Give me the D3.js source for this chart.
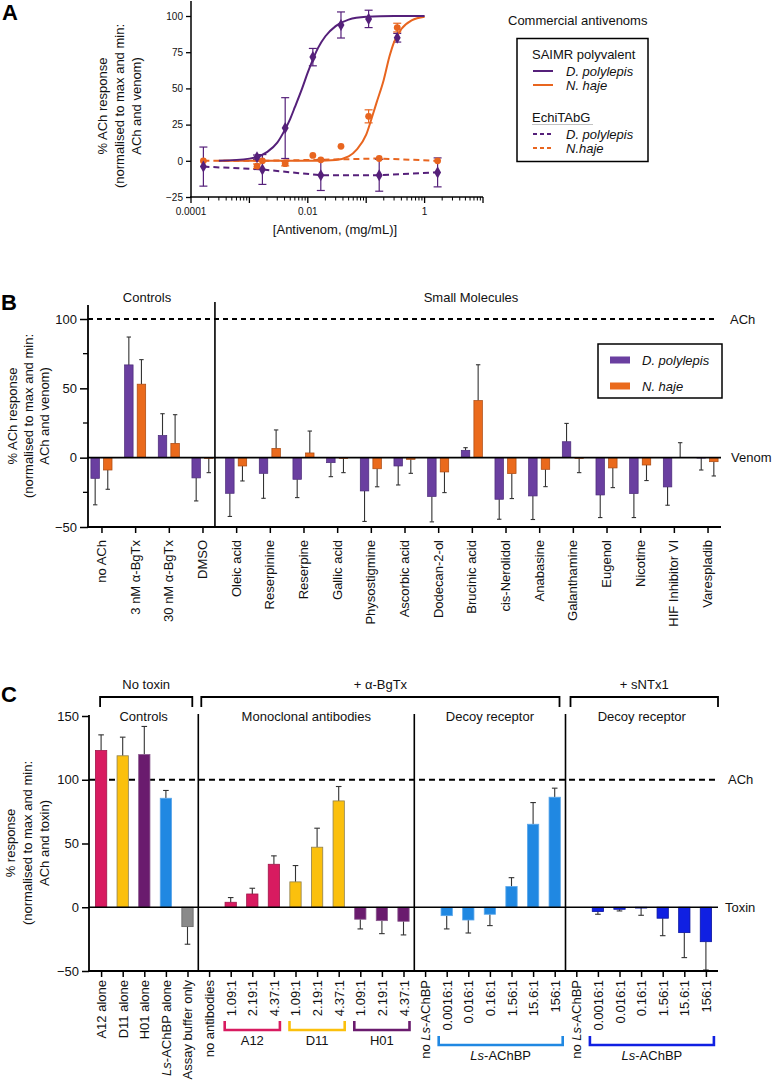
<!DOCTYPE html>
<html><head><meta charset="utf-8">
<script src="https://cdn.jsdelivr.net/npm/d3@7"></script>
<style>
body{margin:0;background:#fff;}
svg{display:block;font-family:"Liberation Sans", Arial, sans-serif;}
</style></head><body>
<svg id="chart" width="772" height="1084"></svg>
<script>
// ---------------- Panel A data ----------------
const aYTicks = [-25, 0, 25, 50, 75, 100];
const aXLabelTicks = [0.0001, 0.01, 1];
const aXLabelText = ["0.0001", "0.01", "1"];
const saimrDoses = [0.00135, 0.0041, 0.0122, 0.037, 0.11, 0.34];
const saimrDpMean = [2.5, 22.6, 71.6, 93.8, 98, 85];
const saimrDpErr = [1.5, 21, 6, 9, 6, 3];
const saimrNhMean = [-3.7, -2, 3.7, 10, 30.7, 92];
const saimrNhErr = [1.5, 1.5, 0, 0, 4.5, 3];
const echiDoses = [0.000163, 0.00167, 0.0167, 0.167, 1.67];
const echiDpMean = [-4, -6, -10, -10, -8];
const echiDpErr = [13.5, 10.3, 10.5, 11, 10];
const echiNhMean = [0, 0, 0.7, 1.6, 0];
const fitDpX = [0.0003, 0.001, 0.002, 0.003, 0.004, 0.005, 0.006, 0.008, 0.01, 0.015, 0.02, 0.03, 0.05, 0.1, 0.3, 1];
const fitDpY = [0.1, 1.5, 6, 12.5, 21, 29, 37, 50, 61, 78, 86, 93, 97.5, 99.4, 100, 100];
const fitNhX = [0.0003, 0.01, 0.03, 0.05, 0.07, 0.1, 0.13, 0.15, 0.2, 0.25, 0.3, 0.4, 0.6, 1];
const fitNhY = [0, 0, 0.6, 3, 8, 18, 32, 40, 56, 72, 82, 91, 97, 99.5];

// ---------------- Panel B data ----------------
const bCategories = ["no ACh", "3 nM α-BgTx", "30 nM α-BgTx", "DMSO", "Oleic acid", "Reserpinine", "Reserpine", "Gallic acid", "Physostigmine", "Ascorbic acid", "Dodecan-2-ol", "Brucinic acid", "cis-Nerolidol", "Anabasine", "Galanthamine", "Eugenol", "Nicotine", "HIF Inhibitor VI", "Varespladib"];
const bPolylepis = [-14.9, 66.9, 16, -14.6, -25.7, -11.3, -15.6, -3.6, -24, -6, -28, 5.3, -30, -27.6, 11.5, -26.9, -25.9, -21.1, -0.3];
const bPolylepisErr = [19.1, 20.1, 15.7, 16.6, 16.7, 18, 13.2, 10.1, 22, 13.7, 18.3, 1.9, 14.4, 17, 13.2, 16.3, 17.3, 13.2, 8.6];
const bHaje = [-8.9, 53, 10.3, -0.5, -6, 6.7, 3.4, -0.5, -8, -1.2, -10.3, 41.2, -11.5, -8.4, -0.5, -7.4, -5.3, 0, -2.9];
const bHajeErr = [13.9, 17.7, 20.7, 10.3, 10.8, 13.3, 15.8, 10.3, 13, 10.1, 14.9, 25.8, 18, 12.5, 10.3, 14.2, 11.2, 10.8, 10.3];
const bYTicks = [-50, 0, 50, 100];
const bYMinor = [-25, 25, 75];

// ---------------- Panel C data ----------------
const cLabels = ["A12 alone", "D11 alone", "H01 alone", "Ls-AChBP alone", "Assay buffer only", "no antibodies", "1.09:1", "2.19:1", "4.37:1", "1.09:1", "2.19:1", "4.37:1", "1.09:1", "2.19:1", "4.37:1", "no Ls-AChBP", "0.0016:1", "0.016:1", "0.16:1", "1.56:1", "15.6:1", "156:1", "no Ls-AChBP", "0.0016:1", "0.016:1", "0.16:1", "1.56:1", "15.6:1", "156:1"];
const cValues = [122.9, 118.8, 119.8, 85.5, -15.2, 0, 3.9, 10.4, 33.7, 19.9, 47.1, 83.4, -9.4, -10.5, -11, 0, -6.6, -10, -5.5, 16.2, 65.1, 86.3, 0, -3.4, -1.6, -0.5, -8.6, -19.9, -27];
const cErrors = [12.3, 14.6, 22, 6.1, 13.8, 0, 3.7, 4.5, 6.6, 12.8, 14.9, 11.3, 7.6, 10.2, 10.7, 0, 10.4, 10.2, 8.9, 7, 17, 7.1, 0, 2.1, 1.3, 5.8, 13.7, 19.6, 22.2];
const cGroups = ["A12", "D11", "H01", "Ls", "buffer", "none", "A12", "A12", "A12", "D11", "D11", "D11", "H01", "H01", "H01", "none", "Ls", "Ls", "Ls", "Ls", "Ls", "Ls", "none", "sNTx", "sNTx", "sNTx", "sNTx", "sNTx", "sNTx"];
const cYTicks = [-50, 0, 50, 100, 150];
const cSections = ["Controls", "Monoclonal antibodies", "Decoy receptor", "Decoy receptor"];
const cTopBrackets = ["No toxin", "+ α-BgTx", "+ sNTx1"];
const cBottomBrackets = [
  {label: "A12", from: 6, to: 8, key: "A12"},
  {label: "D11", from: 9, to: 11, key: "D11"},
  {label: "H01", from: 12, to: 14, key: "H01"},
  {label: "Ls-AChBP", from: 16, to: 21, key: "Ls"},
  {label: "Ls-AChBP", from: 23, to: 28, key: "sNTx"}
];

// ---------------- styles ----------------
const FONT = '"Liberation Sans", Arial, sans-serif';
const cA_purple = "#55207a", cA_orange = "#e8651f";
const cB_purple = "#6a3fa0", cB_orange = "#ea6a1c";
const cColors = {A12: "#d81b60", D11: "#fbc00d", H01: "#6a1b6e", Ls: "#2088e2", buffer: "#8a8a8a", sNTx: "#1020e2", none: "#fff"};
const cStroke = {A12: "#a0164a", D11: "#8f8050", H01: "#8a5a8e", Ls: "#5aa6ea", buffer: "#666", sNTx: "#0a14a0", none: "#fff"};

const svg = d3.select("#chart");

function styleAxis(g, size) {
  g.attr("font-family", FONT).attr("font-size", size);
  g.selectAll("text").attr("fill", "#111");
}
function yTitle(g, lines, x0, dx, cy, size) {
  lines.forEach((t, i) => {
    g.append("text").attr("transform", `translate(${x0 + i * dx},${cy}) rotate(-90)`)
      .attr("text-anchor", "middle").attr("dominant-baseline", "central")
      .attr("font-size", size).attr("fill", "#111").text(t);
  });
}
function rich(sel, str) {
  str.split(/(Ls)/).forEach(p => {
    if (!p) return;
    sel.append("tspan").attr("font-style", p === "Ls" ? "italic" : "normal").text(p);
  });
}
function panelLetter(t, x, y) {
  svg.append("text").attr("x", x).attr("y", y).attr("font-size", 22).attr("font-weight", "bold").attr("fill", "#000").text(t);
}

// ================= PANEL A =================
(function () {
  const g = svg.append("g");
  panelLetter("A", 2, 20);
  const x = d3.scaleLog().domain([1e-4, 10]).range([191, 483]);
  const y = d3.scaleLinear().domain([-25, 100]).range([197, 16]);

  // axes
  g.append("line").attr("x1", 191).attr("x2", 191).attr("y1", 1).attr("y2", 197.5).attr("stroke", "#000").attr("stroke-width", 1.5);
  g.append("line").attr("x1", 190).attr("x2", 483).attr("y1", 197).attr("y2", 197).attr("stroke", "#000").attr("stroke-width", 1.5);
  const ya = g.append("g").attr("transform", "translate(191,0)")
    .call(d3.axisLeft(y).tickValues(aYTicks).tickSize(5).tickPadding(3));
  ya.select(".domain").remove();
  styleAxis(ya, 10);
  ya.selectAll("line").attr("stroke-width", 1.3);

  const minor = [];
  for (let e = -4; e < 1; e++) for (let m = 2; m <= 9; m++) minor.push(m * Math.pow(10, e));
  const decades = [1e-4, 1e-3, 1e-2, 1e-1, 1, 10];
  g.append("g").selectAll("line").data(minor).join("line")
    .attr("x1", d => x(d)).attr("x2", d => x(d)).attr("y1", 197).attr("y2", 200.5)
    .attr("stroke", "#000").attr("stroke-width", 1);
  g.append("g").selectAll("line").data(decades).join("line")
    .attr("x1", d => x(d)).attr("x2", d => x(d)).attr("y1", 197).attr("y2", 203)
    .attr("stroke", "#000").attr("stroke-width", 1.3);
  g.append("g").selectAll("text").data(aXLabelTicks).join("text")
    .attr("x", d => x(d)).attr("y", 215).attr("text-anchor", "middle")
    .attr("font-size", 10).attr("fill", "#111").text((d, i) => aXLabelText[i]);

  g.append("text").attr("x", 335).attr("y", 234).attr("text-anchor", "middle").attr("font-size", 13).attr("fill", "#111")
    .text("[Antivenom, (mg/mL)]");
  yTitle(g, ["% ACh response", "(normalised to max and min:", "ACh and venom)"], 102, 17, 106, 13);

  // dashed EchiTAbG lines
  const lin = d3.line().x(d => x(d[0])).y(d => y(d[1]));
  g.append("path").datum(echiDoses.map((d, i) => [d, echiNhMean[i]])).attr("d", lin)
    .attr("fill", "none").attr("stroke", cA_orange).attr("stroke-width", 2).attr("stroke-dasharray", "6,4");
  g.append("path").datum(echiDoses.map((d, i) => [d, echiDpMean[i]])).attr("d", lin)
    .attr("fill", "none").attr("stroke", cA_purple).attr("stroke-width", 2).attr("stroke-dasharray", "6,4");

  // error bars
  function errBars(doses, means, errs, color) {
    const eg = g.append("g").attr("stroke", color).attr("stroke-width", 1.2);
    doses.forEach((d, i) => {
      if (!errs[i]) return;
      const cx = x(d), y1 = y(means[i] + errs[i]), y2 = y(means[i] - errs[i]);
      eg.append("line").attr("x1", cx).attr("x2", cx).attr("y1", y1).attr("y2", y2);
      eg.append("line").attr("x1", cx - 4).attr("x2", cx + 4).attr("y1", y1).attr("y2", y1);
      eg.append("line").attr("x1", cx - 4).attr("x2", cx + 4).attr("y1", y2).attr("y2", y2);
    });
  }
  errBars(echiDoses, echiDpMean, echiDpErr, cA_purple);
  errBars(saimrDoses, saimrDpMean, saimrDpErr, cA_purple);
  errBars(saimrDoses, saimrNhMean, saimrNhErr, cA_orange);

  // fitted curves
  const cl = d3.line().x(d => x(d[0])).y(d => y(d[1])).curve(d3.curveMonotoneX);
  g.append("path").datum(fitNhX.map((d, i) => [d, fitNhY[i]])).attr("d", cl)
    .attr("fill", "none").attr("stroke", cA_orange).attr("stroke-width", 2);
  g.append("path").datum(fitDpX.map((d, i) => [d, fitDpY[i]])).attr("d", cl)
    .attr("fill", "none").attr("stroke", cA_purple).attr("stroke-width", 2);

  // markers
  const diamond = d3.symbol().type(d3.symbolDiamond).size(42);
  function circles(doses, means, color) {
    g.append("g").selectAll("circle").data(doses).join("circle")
      .attr("cx", d => x(d)).attr("cy", (d, i) => y(means[i])).attr("r", 3.4).attr("fill", color);
  }
  function diamonds(doses, means, color) {
    g.append("g").selectAll("path").data(doses).join("path")
      .attr("d", diamond).attr("transform", (d, i) => `translate(${x(d)},${y(means[i])})`).attr("fill", color);
  }
  circles(echiDoses, echiNhMean, cA_orange);
  circles(saimrDoses, saimrNhMean, cA_orange);
  diamonds(echiDoses, echiDpMean, cA_purple);
  diamonds(saimrDoses, saimrDpMean, cA_purple);

  // legend
  const lg = g.append("g").attr("font-size", 13).attr("fill", "#111");
  lg.append("text").attr("x", 508).attr("y", 25).text("Commercial antivenoms");
  lg.append("rect").attr("x", 517).attr("y", 38.5).attr("width", 131).attr("height", 123).attr("fill", "none").attr("stroke", "#000").attr("stroke-width", 1.5);
  lg.append("text").attr("x", 532).attr("y", 59).text("SAIMR polyvalent");
  lg.append("text").attr("x", 532).attr("y", 122).text("EchiTAbG");
  lg.append("line").attr("x1", 532).attr("x2", 593).attr("y1", 124.5).attr("y2", 124.5).attr("stroke", "#999").attr("stroke-width", 0.6);
  const items = [
    {y: 71, c: cA_purple, d: null, t: "D. polylepis"},
    {y: 85, c: cA_orange, d: null, t: "N. haje"},
    {y: 134, c: cA_purple, d: "4,3", t: "D. polylepis"},
    {y: 148, c: cA_orange, d: "4,3", t: "N.haje"}
  ];
  items.forEach(it => {
    lg.append("line").attr("x1", 533).attr("x2", 553).attr("y1", it.y).attr("y2", it.y)
      .attr("stroke", it.c).attr("stroke-width", 2).attr("stroke-dasharray", it.d);
    lg.append("text").attr("x", 566).attr("y", it.y).attr("dy", "0.35em").attr("font-style", "italic").text(it.t);
  });
})();

// ================= PANEL B =================
(function () {
  const g = svg.append("g");
  panelLetter("B", 1, 310);
  const x = d3.scalePoint().domain(bCategories).range([88, 721]).padding(0.4);
  const y = d3.scaleLinear().domain([-50, 100]).range([527, 319]);
  const step = x.step();
  const bw = 8.5, off = 6.3;

  const divX = x(bCategories[3]) + step * 0.37;
  // reference lines
  g.append("line").attr("x1", 88).attr("x2", 717).attr("y1", y(100)).attr("y2", y(100))
    .attr("stroke", "#000").attr("stroke-width", 1.8).attr("stroke-dasharray", "5,4");
  g.append("text").attr("x", 730).attr("y", y(100)).attr("dy", "0.35em").attr("font-size", 13).attr("fill", "#111").text("ACh");
  g.append("text").attr("x", 731).attr("y", y(0)).attr("dy", "0.35em").attr("font-size", 13).attr("fill", "#111").text("Venom");

  // bars
  function bars(vals, color, stroke, dx) {
    g.append("g").selectAll("rect").data(bCategories).join("rect")
      .attr("x", d => x(d) + dx - bw / 2).attr("width", bw)
      .attr("y", (d, i) => y(Math.max(0, vals[i]))).attr("height", (d, i) => Math.abs(y(vals[i]) - y(0)))
      .attr("fill", color).attr("stroke", stroke).attr("stroke-width", 0.7);
  }
  function errs(vals, e, dx) {
    const eg = g.append("g").attr("stroke", "#333").attr("stroke-width", 1.1);
    bCategories.forEach((c, i) => {
      const cx = x(c) + dx, v = vals[i], end = v >= 0 ? v + e[i] : v - e[i];
      eg.append("line").attr("x1", cx).attr("x2", cx).attr("y1", y(v)).attr("y2", y(end));
      eg.append("line").attr("x1", cx - 2.2).attr("x2", cx + 2.2).attr("y1", y(end)).attr("y2", y(end));
    });
  }
  errs(bPolylepis, bPolylepisErr, -off);
  errs(bHaje, bHajeErr, off);
  bars(bPolylepis, cB_purple, "#4a2a78", -off);
  bars(bHaje, cB_orange, "#a8480f", off);

  // zero line, divider, axes
  g.append("line").attr("x1", 88).attr("x2", 721).attr("y1", y(0)).attr("y2", y(0)).attr("stroke", "#000").attr("stroke-width", 1.6);
  g.append("line").attr("x1", divX).attr("x2", divX).attr("y1", 302).attr("y2", 527).attr("stroke", "#000").attr("stroke-width", 1.6);
  g.append("line").attr("x1", 88).attr("x2", 88).attr("y1", 305).attr("y2", 528).attr("stroke", "#000").attr("stroke-width", 1.8);
  g.append("line").attr("x1", 87).attr("x2", 721).attr("y1", 527).attr("y2", 527).attr("stroke", "#000").attr("stroke-width", 1.8);

  const ya = g.append("g").attr("transform", "translate(88,0)").call(d3.axisLeft(y).tickValues(bYTicks).tickSize(8).tickPadding(3));
  ya.select(".domain").remove(); styleAxis(ya, 13); ya.selectAll("line").attr("stroke-width", 1.5);
  g.append("g").selectAll("line").data(bYMinor).join("line").attr("x1", 83).attr("x2", 88)
    .attr("y1", d => y(d)).attr("y2", d => y(d)).attr("stroke", "#000").attr("stroke-width", 1.3);

  const xa = g.append("g").attr("transform", "translate(0,527)").call(d3.axisBottom(x).tickSize(6).tickFormat(""));
  xa.select(".domain").remove(); xa.selectAll("line").attr("stroke-width", 1.5);
  g.append("g").selectAll("text").data(bCategories).join("text")
    .attr("transform", d => `translate(${x(d)},540) rotate(-90)`)
    .attr("text-anchor", "end").attr("dominant-baseline", "central")
    .attr("font-size", 13).attr("fill", "#111").text(d => d);

  g.append("text").attr("x", 147).attr("y", 302).attr("text-anchor", "middle").attr("font-size", 13).attr("fill", "#111").text("Controls");
  g.append("text").attr("x", 471).attr("y", 302).attr("text-anchor", "middle").attr("font-size", 13).attr("fill", "#111").text("Small Molecules");
  yTitle(g, ["% ACh response", "(normalised to max and min:", "ACh and venom)"], 12, 16, 416, 13);

  // legend
  g.append("rect").attr("x", 598).attr("y", 344).attr("width", 124).attr("height", 54).attr("fill", "#fff").attr("stroke", "#000").attr("stroke-width", 1.5);
  [[cB_purple, "D. polylepis", 360], [cB_orange, "N. haje", 386]].forEach(([c, t, yy]) => {
    g.append("rect").attr("x", 610).attr("y", yy - 3.5).attr("width", 20).attr("height", 7).attr("fill", c);
    g.append("text").attr("x", 642).attr("y", yy).attr("dy", "0.35em").attr("font-size", 13).attr("font-style", "italic").attr("fill", "#111").text(t);
  });
})();

// ================= PANEL C =================
(function () {
  const g = svg.append("g");
  panelLetter("C", 1, 702);
  const idx = d3.range(cLabels.length);
  const x = d3.scalePoint().domain(idx).range([89, 718]).padding(0.56);
  const y = d3.scaleLinear().domain([-50, 150]).range([971, 716]);
  const bw = 11.3;
  const div1 = (x(4) + x(5)) / 2, div2 = (x(14) + x(15)) / 2, div3 = (x(21) + x(22)) / 2;

  g.append("line").attr("x1", 89).attr("x2", 718).attr("y1", y(100)).attr("y2", y(100))
    .attr("stroke", "#000").attr("stroke-width", 1.8).attr("stroke-dasharray", "6,4");
  g.append("text").attr("x", 728).attr("y", y(100)).attr("dy", "0.35em").attr("font-size", 13).attr("fill", "#111").text("ACh");
  g.append("text").attr("x", 725).attr("y", y(0)).attr("dy", "0.35em").attr("font-size", 13).attr("fill", "#111").text("Toxin");

  // error bars
  const eg = g.append("g").attr("stroke", "#333").attr("stroke-width", 1.1);
  idx.forEach(i => {
    if (!cErrors[i]) return;
    const cx = x(i), v = cValues[i], end = v >= 0 ? v + cErrors[i] : v - cErrors[i];
    eg.append("line").attr("x1", cx).attr("x2", cx).attr("y1", y(v)).attr("y2", y(end));
    eg.append("line").attr("x1", cx - 2.8).attr("x2", cx + 2.8).attr("y1", y(end)).attr("y2", y(end));
  });
  // bars
  g.append("g").selectAll("rect").data(idx.filter(i => cGroups[i] !== "none")).join("rect")
    .attr("x", i => x(i) - bw / 2).attr("width", bw)
    .attr("y", i => y(Math.max(0, cValues[i]))).attr("height", i => Math.max(0.8, Math.abs(y(cValues[i]) - y(0))))
    .attr("fill", i => cColors[cGroups[i]]).attr("stroke", i => cStroke[cGroups[i]]).attr("stroke-width", 0.8);

  // zero, dividers, axes
  g.append("line").attr("x1", 89).attr("x2", 718).attr("y1", y(0)).attr("y2", y(0)).attr("stroke", "#000").attr("stroke-width", 1.6);
  [div1, div2, div3].forEach(d => g.append("line").attr("x1", d).attr("x2", d).attr("y1", 714).attr("y2", 971).attr("stroke", "#000").attr("stroke-width", 1.6));
  g.append("line").attr("x1", 89).attr("x2", 89).attr("y1", 715).attr("y2", 972).attr("stroke", "#000").attr("stroke-width", 1.8);
  g.append("line").attr("x1", 88).attr("x2", 718).attr("y1", 971).attr("y2", 971).attr("stroke", "#000").attr("stroke-width", 1.8);
  const ya = g.append("g").attr("transform", "translate(89,0)").call(d3.axisLeft(y).tickValues(cYTicks).tickSize(7).tickPadding(3));
  ya.select(".domain").remove(); styleAxis(ya, 13); ya.selectAll("line").attr("stroke-width", 1.5);
  const xa = g.append("g").attr("transform", "translate(0,971)").call(d3.axisBottom(x).tickSize(6).tickFormat(""));
  xa.select(".domain").remove(); xa.selectAll("line").attr("stroke-width", 1.5);
  const lab = g.append("g").selectAll("text").data(idx).join("text")
    .attr("transform", i => `translate(${x(i)},980) rotate(-90)`)
    .attr("text-anchor", "end").attr("dominant-baseline", "central")
    .attr("font-size", 13).attr("fill", "#111");
  lab.each(function (i) { rich(d3.select(this), cLabels[i]); });

  yTitle(g, ["% response", "(normalised to max and min:", "ACh and toxin)"], 10, 17, 843, 13);

  // section labels
  const secCenters = [(89 + div1) / 2, (div1 + div2) / 2, (div2 + div3) / 2, (div3 + 718) / 2];
  cSections.forEach((s, i) => g.append("text").attr("x", secCenters[i]).attr("y", 716).attr("dy", "0.35em")
    .attr("text-anchor", "middle").attr("font-size", 13).attr("fill", "#111").text(s));

  // top brackets
  const tb = [[x(0) - 1, div1 - 6], [div1 + 3, div3 - 6], [div3 + 5, 718]];
  tb.forEach(([a, b], i) => {
    g.append("path").attr("d", `M${a},707V697H${b}V707`).attr("fill", "none").attr("stroke", "#000").attr("stroke-width", 1.8);
    g.append("text").attr("x", (a + b) / 2).attr("y", 684).attr("dy", "0.35em").attr("text-anchor", "middle")
      .attr("font-size", 13).attr("fill", "#111").text(cTopBrackets[i]);
  });

  // bottom brackets
  cBottomBrackets.forEach(b => {
    const isLs = b.label.startsWith("Ls");
    const pad = isLs ? 8 : 6;
    const a = x(b.from) - pad, e = x(b.to) + pad;
    const hy = isLs ? 1045 : 1030;
    g.append("path").attr("d", `M${a},${hy - 9}V${hy}H${e}V${hy - 9}`).attr("fill", "none")
      .attr("stroke", cColors[b.key]).attr("stroke-width", 2.6);
    const t = g.append("text").attr("x", (a + e) / 2).attr("y", hy + 10).attr("dy", "0.35em").attr("text-anchor", "middle")
      .attr("font-size", 13).attr("fill", "#111");
    rich(t, b.label);
  });
})();
</script></body></html>
